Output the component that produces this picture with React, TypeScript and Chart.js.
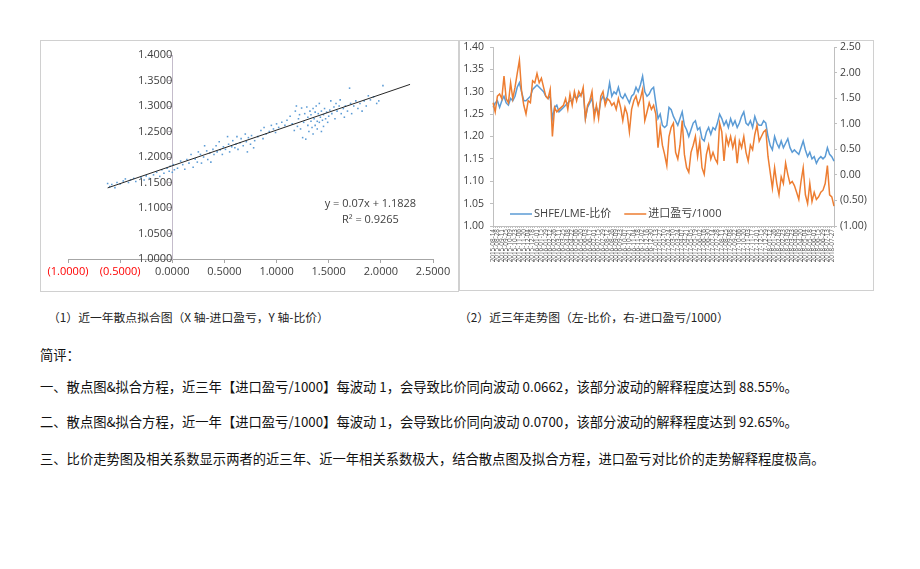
import React, { useEffect, useRef } from "react";
import { Chart, registerables } from "chart.js";
Chart.register(...registerables);

// ---------- Scatter chart (near one year): x = 进口盈亏/1000, y = 比价 ----------
const SCATTER_POINTS: [number, number][] = [
  [-0.62, 1.148], [-0.6, 1.142], [-0.58, 1.146], [-0.55, 1.14], [-0.53, 1.15], [-0.5, 1.147],
  [-0.47, 1.153], [-0.45, 1.157], [-0.42, 1.15], [-0.4, 1.155], [-0.37, 1.158], [-0.35, 1.152],
  [-0.3, 1.16], [-0.27, 1.155], [-0.25, 1.163], [-0.22, 1.158], [-0.18, 1.165], [-0.15, 1.17],
  [-0.12, 1.162], [-0.1, 1.175], [-0.08, 1.168], [-0.05, 1.178], [-0.03, 1.172], [-0.02, 1.182],
  [0.0, 1.17], [0.01, 1.185], [0.02, 1.175],
  [0.05, 1.178], [0.08, 1.192], [0.1, 1.185], [0.12, 1.176], [0.14, 1.195], [0.16, 1.188],
  [0.18, 1.205], [0.2, 1.18], [0.22, 1.196], [0.24, 1.19], [0.25, 1.21], [0.27, 1.205],
  [0.28, 1.188], [0.3, 1.2], [0.31, 1.222], [0.33, 1.212], [0.34, 1.195], [0.36, 1.208],
  [0.37, 1.19], [0.39, 1.215], [0.4, 1.205], [0.42, 1.222], [0.43, 1.21], [0.45, 1.23],
  [0.46, 1.214], [0.48, 1.205], [0.49, 1.22],
  [0.51, 1.215], [0.53, 1.24], [0.54, 1.225], [0.55, 1.21], [0.57, 1.22], [0.58, 1.232],
  [0.6, 1.218], [0.61, 1.225], [0.62, 1.24], [0.63, 1.215], [0.65, 1.228], [0.66, 1.236],
  [0.68, 1.222], [0.7, 1.245], [0.71, 1.23], [0.72, 1.21], [0.73, 1.238], [0.75, 1.225],
  [0.76, 1.242], [0.78, 1.218], [0.79, 1.232], [0.82, 1.24], [0.85, 1.252], [0.87, 1.236],
  [0.88, 1.258], [0.9, 1.245], [0.93, 1.25], [0.95, 1.262], [0.97, 1.255], [0.99, 1.248],
  [1.0, 1.265], [1.02, 1.258], [1.05, 1.268], [1.08, 1.262], [1.1, 1.272], [1.13, 1.28],
  [1.15, 1.265], [1.17, 1.252], [1.18, 1.29], [1.19, 1.3],
  [1.2, 1.26], [1.21, 1.275], [1.22, 1.283], [1.23, 1.255], [1.24, 1.296], [1.25, 1.238],
  [1.26, 1.268], [1.27, 1.285], [1.28, 1.235], [1.29, 1.298], [1.3, 1.262], [1.3, 1.278],
  [1.31, 1.25], [1.32, 1.29], [1.33, 1.27], [1.33, 1.283], [1.34, 1.258], [1.35, 1.295],
  [1.35, 1.245], [1.36, 1.275], [1.37, 1.288], [1.37, 1.262], [1.38, 1.3], [1.39, 1.27],
  [1.39, 1.255], [1.4, 1.285], [1.41, 1.305], [1.41, 1.268], [1.42, 1.278], [1.43, 1.25],
  [1.43, 1.29], [1.44, 1.272], [1.45, 1.26], [1.45, 1.283], [1.46, 1.295], [1.47, 1.275],
  [1.48, 1.288], [1.49, 1.268], [1.5, 1.28],
  [1.51, 1.292], [1.52, 1.31], [1.53, 1.285], [1.55, 1.298], [1.56, 1.275], [1.57, 1.305],
  [1.58, 1.29], [1.6, 1.3], [1.61, 1.312], [1.62, 1.285], [1.64, 1.295], [1.65, 1.278],
  [1.66, 1.3], [1.68, 1.29], [1.7, 1.335], [1.71, 1.305], [1.72, 1.285], [1.74, 1.3],
  [1.76, 1.31], [1.78, 1.295], [1.8, 1.305], [1.82, 1.29], [1.84, 1.31], [1.86, 1.3],
  [1.88, 1.32], [1.9, 1.312], [1.93, 1.318], [1.96, 1.305], [1.98, 1.31], [2.02, 1.34],
];
const TREND_SLOPE = 0.07;
const TREND_INTERCEPT = 1.1828;
const TREND_X = [-0.62, 2.28];
const EQUATION_LINES = ["y = 0.07x + 1.1828", "R² = 0.9265"];
const EQUATION_ANCHOR = { x: 1.9, y: 1.108 };

// ---------- Line chart (near three years, weekly) ----------
const START_DATE = "2015-08-14";
const RATIO = [
  1.265, 1.275, 1.28, 1.265, 1.28, 1.29, 1.275, 1.27, 1.285, 1.28,
  1.29, 1.31, 1.32, 1.3, 1.28, 1.28, 1.285, 1.29, 1.305, 1.31,
  1.315, 1.31, 1.305, 1.3, 1.29, 1.285, 1.29, 1.24, 1.265, 1.27,
  1.255, 1.26, 1.265, 1.27, 1.275, 1.28, 1.28, 1.29, 1.285, 1.29,
  1.295, 1.3, 1.24, 1.265, 1.275, 1.285, 1.255, 1.265, 1.25, 1.28,
  1.29, 1.28, 1.29, 1.32, 1.29, 1.3, 1.295, 1.31, 1.29, 1.285,
  1.295, 1.285, 1.275, 1.29, 1.295, 1.31, 1.3, 1.315, 1.335, 1.3,
  1.29, 1.295, 1.305, 1.31, 1.275, 1.24, 1.25, 1.225, 1.22, 1.225,
  1.265, 1.26, 1.245, 1.235, 1.225, 1.24, 1.255, 1.225, 1.215, 1.2,
  1.215, 1.23, 1.235, 1.215, 1.22, 1.195, 1.19, 1.21, 1.22, 1.205,
  1.22, 1.215, 1.23, 1.25, 1.24, 1.225, 1.235, 1.22, 1.24, 1.225,
  1.235, 1.22, 1.23, 1.245, 1.255, 1.23, 1.225, 1.235, 1.22, 1.245,
  1.23, 1.225, 1.225, 1.235, 1.23, 1.2, 1.18, 1.17, 1.2, 1.185,
  1.175, 1.19, 1.175, 1.185, 1.195, 1.175, 1.165, 1.17, 1.165, 1.16,
  1.175, 1.19, 1.17, 1.155, 1.165, 1.15, 1.155, 1.14, 1.15, 1.155,
  1.15, 1.155, 1.175, 1.16, 1.155, 1.145,
];
const PROFIT = [
  1.41, 1.23, 1.54, 1.58, 1.49, 1.93, 1.49, 1.41, 1.8, 1.49,
  1.71, 1.98, 2.24, 1.63, 1.36, 1.19, 1.45, 1.41, 1.84, 1.8,
  1.98, 1.8, 1.89, 1.71, 1.54, 1.49, 1.67, 0.75, 1.32, 1.23,
  1.28, 1.32, 1.36, 1.49, 1.28, 1.58, 1.36, 1.63, 1.45, 1.63,
  1.54, 1.71, 1.1, 1.36, 1.45, 1.63, 1.1, 1.36, 1.1, 1.54,
  1.63, 1.36, 1.49, 1.45, 1.36, 1.41, 1.28, 1.49, 1.32, 1.06,
  1.32, 1.19, 0.84, 1.28, 1.45, 1.54, 1.36, 1.49, 1.67, 1.06,
  1.23, 1.41, 1.28, 1.36, 1.19, 0.53, 0.93, 0.58, 0.4, 0.18,
  0.75, 0.93, 1.01, 0.44, 0.31, 0.58, 1.06, 0.4, 0.14, 0.05,
  0.44, 0.58, 0.75, 0.36, 0.66, 0.14, 0.01, 0.4, 0.58, 0.31,
  0.44, 0.31, 0.23, 1.01, 0.84, 0.27, 0.75, 0.58, 0.75, 0.53,
  0.71, 0.23, 0.66, 0.53, 0.75, 0.44, 0.27, 0.58, 0.49, 0.79,
  0.97, 0.66, 0.75, 0.84, 0.88, 0.36, 0.05, -0.26, 0.14, -0.17,
  -0.39, -0.04, -0.17, 0.23, 0.01, -0.17, -0.13, -0.21, -0.34, -0.48,
  -0.13, 0.14, -0.39, -0.56, -0.17, -0.52, -0.34, -0.48, -0.43, -0.34,
  -0.3, -0.17, 0.18, -0.39, -0.43, -0.61,
];
const SERIES_NAMES = ["SHFE/LME-比价", "进口盈亏/1000"];

const DATE_LABELS: string[] = (() => {
  const out: string[] = [];
  const d = new Date(START_DATE + "T00:00:00Z");
  for (let i = 0; i < RATIO.length; i++) {
    const y = d.getUTCFullYear();
    const m = String(d.getUTCMonth() + 1).padStart(2, "0");
    const dd = String(d.getUTCDate()).padStart(2, "0");
    out.push(`${y}-${m}-${dd}`);
    d.setUTCDate(d.getUTCDate() + 7);
  }
  return out;
})();

const CAPTION_LEFT = "（1）近一年散点拟合图（X 轴-进口盈亏，Y 轴-比价）";
const CAPTION_RIGHT = "（2）近三年走势图（左-比价，右-进口盈亏/1000）";
const COMMENT_TITLE = "简评：";
const COMMENT_LINES = [
  "一、散点图&拟合方程，近三年【进口盈亏/1000】每波动 1，会导致比价同向波动 0.0662，该部分波动的解释程度达到 88.55%。",
  "二、散点图&拟合方程，近一年【进口盈亏/1000】每波动 1，会导致比价同向波动 0.0700，该部分波动的解释程度达到 92.65%。",
  "三、比价走势图及相关系数显示两者的近三年、近一年相关系数极大，结合散点图及拟合方程，进口盈亏对比价的走势解释程度极高。",
];

const NUM_FONT = "'Open Sans', 'DejaVu Sans', sans-serif";
const LEGEND_FONT = "'Open Sans', 'Noto Sans CJK SC', sans-serif";
const CJK_FONT = "'Noto Sans CJK SC', 'Noto Sans', sans-serif";
const TEXT_COLOR = "#404040";
const BLUE = "#5b9bd5";
const ORANGE = "#ed7d31";

const paren = (v: number, d: number) => {
  if (Math.abs(v) < 1e-9) return (0).toFixed(d);
  return v < 0 ? `(${Math.abs(v).toFixed(d)})` : v.toFixed(d);
};

function ScatterChart() {
  const ref = useRef<HTMLCanvasElement>(null);
  useEffect(() => {
    const equationPlugin = {
      id: "equation",
      afterDatasetsDraw(chart: any) {
        const { ctx, scales } = chart;
        const px = scales.x.getPixelForValue(EQUATION_ANCHOR.x);
        const py = scales.y.getPixelForValue(EQUATION_ANCHOR.y);
        ctx.save();
        ctx.font = `11px ${NUM_FONT}`;
        ctx.fillStyle = TEXT_COLOR;
        ctx.textAlign = "center";
        ctx.textBaseline = "middle";
        EQUATION_LINES.forEach((t, i) => ctx.fillText(t, px, py + i * 16));
        ctx.restore();
      },
    };
    const chart = new Chart(ref.current!, {
      type: "scatter",
      data: {
        datasets: [
          {
            data: TREND_X.map((x) => ({ x, y: TREND_INTERCEPT + TREND_SLOPE * x })),
            showLine: true,
            borderColor: "#262626",
            borderWidth: 1,
            pointRadius: 0,
            order: 0,
          },
          {
            data: SCATTER_POINTS.map(([x, y]) => ({ x, y })),
            backgroundColor: BLUE,
            borderWidth: 0,
            pointRadius: 1.1,
            pointStyle: "rect",
            order: 1,
          },
        ],
      },
      options: {
        animation: false,
        responsive: false,
        events: [],
        layout: { padding: { top: 14, left: 27, right: 25, bottom: 0 } },
        plugins: { legend: { display: false }, tooltip: { enabled: false } },
        scales: {
          x: {
            type: "linear",
            min: -1,
            max: 2.5,
            ticks: {
              stepSize: 0.5,
              autoSkip: false,
              maxRotation: 0,
              padding: 2,
              font: { family: NUM_FONT, size: 11 },
              color: (c: any) => (c.tick && c.tick.value < 0 ? "#ff0000" : TEXT_COLOR),
              callback: (v: any) => paren(Number(v), 4),
            },
            grid: { drawOnChartArea: false, tickLength: 4, color: "#a6a6a6" },
            border: { color: "#a6a6a6" },
            afterFit: (s: any) => {
              s.height = 32;
            },
          },
          y: {
            type: "linear",
            min: 1,
            max: 1.4,
            position: { x: 0 } as any,
            ticks: {
              stepSize: 0.05,
              padding: 3,
              font: { family: NUM_FONT, size: 11 },
              color: TEXT_COLOR,
              callback: (v: any) => paren(Number(v), 4),
            },
            grid: { drawOnChartArea: false, tickLength: 4, color: "#c4bccb" },
            border: { color: "#c4bccb" },
          },
        },
      },
      plugins: [equationPlugin],
    } as any);
    return () => chart.destroy();
  }, []);
  return <canvas ref={ref} width={417} height={250} style={{ position: "absolute", left: 41, top: 41 }} />;
}

function TrendChart() {
  const ref = useRef<HTMLCanvasElement>(null);
  useEffect(() => {
    const legendPlugin = {
      id: "innerLegend",
      afterDraw(chart: any) {
        const { ctx, chartArea } = chart;
        const y = chartArea.bottom - 12;
        let x = chartArea.left + 17;
        ctx.save();
        ctx.font = `11px ${LEGEND_FONT}`;
        ctx.textBaseline = "middle";
        chart.data.datasets.forEach((ds: any) => {
          ctx.strokeStyle = ds.borderColor;
          ctx.lineWidth = 1.5;
          ctx.beginPath();
          ctx.moveTo(x, y);
          ctx.lineTo(x + 22, y);
          ctx.stroke();
          ctx.fillStyle = TEXT_COLOR;
          ctx.fillText(ds.label, x + 24, y);
          x += 24 + ctx.measureText(ds.label).width + 13;
        });
        ctx.restore();
      },
    };
    const noPadV = (s: any, w: number) => {
      s.width = w;
      s.paddingTop = 0;
      s.paddingBottom = 0;
    };
    const chart = new Chart(ref.current!, {
      type: "line",
      data: {
        labels: DATE_LABELS,
        datasets: [
          {
            label: SERIES_NAMES[0],
            data: RATIO,
            borderColor: BLUE,
            borderWidth: 1.5,
            pointRadius: 0,
            yAxisID: "y",
            order: 1,
          },
          {
            label: SERIES_NAMES[1],
            data: PROFIT,
            borderColor: ORANGE,
            borderWidth: 1.5,
            pointRadius: 0,
            yAxisID: "y1",
            order: 0,
          },
        ],
      },
      options: {
        animation: false,
        responsive: false,
        events: [],
        layout: { padding: { top: 6, left: 0, right: 0, bottom: 0 } },
        plugins: { legend: { display: false }, tooltip: { enabled: false } },
        scales: {
          x: {
            offset: false,
            ticks: {
              autoSkip: false,
              minRotation: 90,
              maxRotation: 90,
              padding: 1,
              font: { family: NUM_FONT, size: 6.4 },
              color: "#595959",
              callback: (_v: any, i: number) => (i % 2 === 0 ? DATE_LABELS[i] : ""),
            },
            grid: { drawOnChartArea: false, tickLength: 2, color: "#bfbfbf" },
            border: { color: "#bfbfbf" },
            afterFit: (s: any) => {
              s.height = 63;
              s.paddingLeft = 0;
              s.paddingRight = 0;
            },
          },
          y: {
            position: "left",
            min: 1,
            max: 1.4,
            ticks: {
              stepSize: 0.05,
              padding: 6,
              font: { family: NUM_FONT, size: 10.5 },
              color: TEXT_COLOR,
              callback: (v: any) => Number(v).toFixed(2),
            },
            grid: { drawOnChartArea: false, tickLength: 3, color: "#bfbfbf" },
            border: { color: "#bfbfbf" },
            afterFit: (s: any) => noPadV(s, 33),
          },
          y1: {
            position: "right",
            min: -1,
            max: 2.5,
            ticks: {
              stepSize: 0.5,
              padding: 3,
              font: { family: NUM_FONT, size: 10.5 },
              color: TEXT_COLOR,
              callback: (v: any) => paren(Number(v), 2),
            },
            grid: { drawOnChartArea: false, tickLength: 3, color: "#bfbfbf" },
            border: { color: "#bfbfbf" },
            afterFit: (s: any) => noPadV(s, 39),
          },
        },
      },
      plugins: [legendPlugin],
    } as any);
    return () => chart.destroy();
  }, []);
  return <canvas ref={ref} width={413} height={248} style={{ position: "absolute", left: 460, top: 41 }} />;
}

export default function App() {
  const lineStyle: React.CSSProperties = {
    position: "absolute",
    left: 40,
    fontFamily: CJK_FONT,
    fontSize: 13.3,
    lineHeight: "18px",
    color: "#111",
    whiteSpace: "nowrap",
  };
  return (
    <div style={{ position: "fixed", left: 0, top: 0, width: 920, height: 569, background: "#fff", overflow: "hidden" }}>
      <div style={{ position: "absolute", left: 40, top: 40, width: 419, height: 252, border: "1px solid #d0d0d0", boxSizing: "border-box" }} />
      <div style={{ position: "absolute", left: 459, top: 40, width: 415, height: 251, border: "1px solid #d0d0d0", boxSizing: "border-box" }} />
      <ScatterChart />
      <TrendChart />
      <div style={{ ...lineStyle, left: 48, top: 308, fontSize: 11.8, color: "#222" }}>{CAPTION_LEFT}</div>
      <div style={{ ...lineStyle, left: 459, top: 308, fontSize: 11.8, color: "#222" }}>{CAPTION_RIGHT}</div>
      <div style={{ ...lineStyle, top: 346 }}>{COMMENT_TITLE}</div>
      {COMMENT_LINES.map((t, i) => (
        <div key={i} style={{ ...lineStyle, top: [378, 413, 450][i] }}>
          {t}
        </div>
      ))}
    </div>
  );
}
